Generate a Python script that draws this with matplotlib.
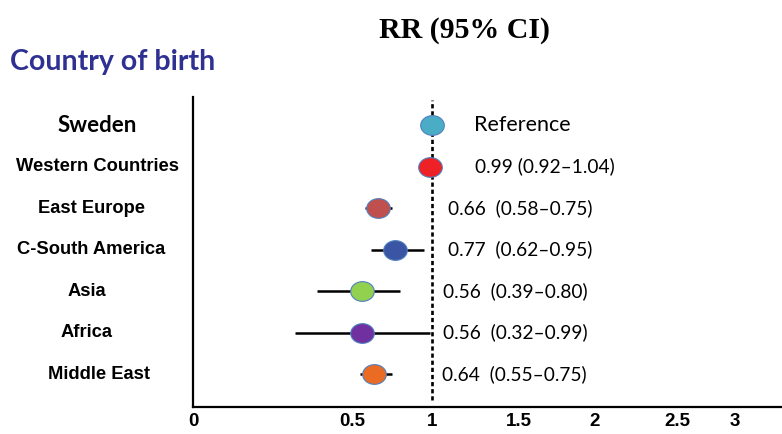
import numpy as np
import matplotlib
matplotlib.use("Agg")
from matplotlib import pyplot as plt
from matplotlib.path import Path
from matplotlib.transforms import Affine2D

# data
countries = ["Sweden", "Western Countries", "East Europe", "C-South America",
             "Asia", "Africa", "Middle East"]
rr = [1.0, 0.99, 0.66, 0.77, 0.56, 0.56, 0.64]
ci_low = [np.nan, 0.92, 0.58, 0.62, 0.39, 0.32, 0.55]
ci_high = [np.nan, 1.04, 0.75, 0.95, 0.80, 0.99, 0.75]
labels = ["Reference", "0.99 (0.92\u20131.04)", "0.66  (0.58\u20130.75)",
          "0.77  (0.62\u20130.95)", "0.56  (0.39\u20130.80)",
          "0.56  (0.32\u20130.99)", "0.64  (0.55\u20130.75)"]
xticks = [0, 0.5, 1, 1.5, 2, 2.5, 3]
xticklabels = ["0", "0.5", "1", "1.5", "2", "2.5", "3"]

# styling
colors = ["#4bacc6", "#ee2226", "#c0504d", "#3a55a4", "#92d050", "#7030a0", "#ea6c24"]
label_x = [1.24, 1.245, 1.09, 1.09, 1.065, 1.065, 1.058]
name_x = [97, 97, 91, 91, 87, 87, 99]  # label centres, pixels

# hand-drawn axis: ticks are not evenly spaced, follow them piecewise
knot_val = [-1, 0, 0.5, 1, 1.5, 2, 2.5, 3, 5]
knot_pos = [-125, 193, 352, 432, 519, 595, 677, 735, 1055]


def fwd(x):
    return np.interp(x, knot_val, knot_pos)


def inv(p):
    return np.interp(p, knot_pos, knot_val)


fig = plt.figure(figsize=(7.82, 4.34), dpi=100)
ax = fig.add_axes([193 / 782, 27 / 434, 589 / 782, 310 / 434])
ax.set_xscale("function", functions=(fwd, inv))
ax.set_xlim(0, inv(782))

n = len(countries)
ypos = np.arange(n)[::-1]
ax.set_ylim(-0.795, n - 1 + 0.675)

ax.vlines(1, -0.63, n - 1 + 0.6, colors="black", linewidth=1.9,
          linestyles=(0, (1.6, 1.1)), zorder=1)

ell = Path.unit_circle().transformed(Affine2D().scale(1.2, 1.0))
for i in range(n):
    y = ypos[i]
    if not np.isnan(ci_low[i]):
        ax.plot([ci_low[i], ci_high[i]], [y, y], color="black", lw=1.8,
                solid_capstyle="butt", zorder=2)
    ax.plot(rr[i], y, marker=ell, markersize=17, color=colors[i],
            markeredgecolor="#4f7fbf", markeredgewidth=0.8, zorder=3)
    ax.text(label_x[i], y, labels[i], ha="left", va="center",
            fontsize=15.5 if i == 0 else 13.8, family="Lato")
    xf = (name_x[i] - 193) / 589
    if i == 0:
        ax.text(xf, y, countries[i], transform=ax.get_yaxis_transform(),
                ha="center", va="center", fontsize=16, fontweight="bold",
                family="Lato")
    else:
        ax.text(xf, y, countries[i], transform=ax.get_yaxis_transform(),
                ha="center", va="center", fontsize=13.2, fontweight="bold",
                family="Liberation Sans")

ax.set_xticks(xticks)
ax.set_xticklabels(xticklabels, fontsize=13.5, fontweight="bold",
                   family="Liberation Sans")
ax.tick_params(axis="x", length=0, pad=4)
ax.set_yticks([])
ax.spines["top"].set_visible(False)
ax.spines["right"].set_visible(False)
ax.spines["left"].set_linewidth(1.6)
ax.spines["bottom"].set_linewidth(1.6)

fig.text(465 / 782, 1 - 30 / 434, "RR (95% CI)", ha="center", va="center",
         fontsize=21.5, fontweight="bold", family="Liberation Serif")
fig.text(10 / 782, 1 - 62 / 434, "Country of birth", ha="left", va="center",
         fontsize=20.5, fontweight="bold", family="Lato", color="#2e3192")

fig.savefig("out.png", dpi=100)
